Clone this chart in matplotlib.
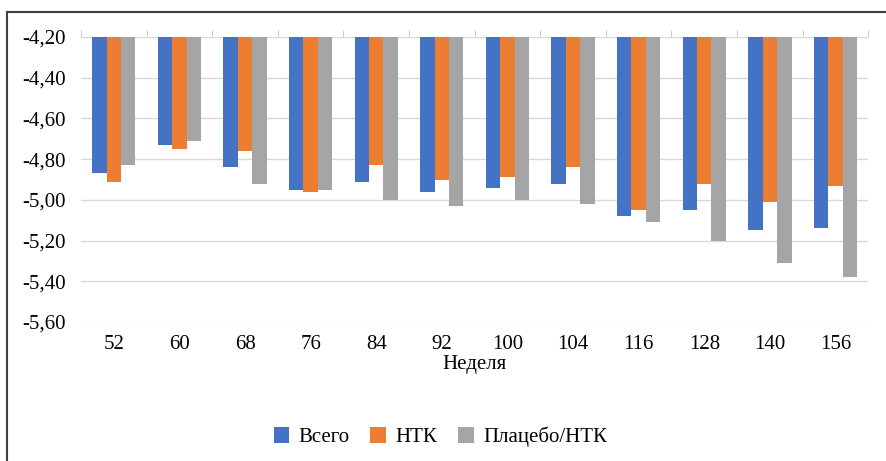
import numpy as np
import matplotlib
matplotlib.use("Agg")
import matplotlib.pyplot as plt
from matplotlib.lines import Line2D
from matplotlib.ticker import FuncFormatter, FixedLocator

weeks = ["52", "60", "68", "76", "84", "92", "100", "104", "116", "128", "140", "156"]
vsego = [-4.87, -4.73, -4.84, -4.95, -4.91, -4.96, -4.94, -4.92, -5.08, -5.05, -5.15, -5.14]
ntk = [-4.91, -4.75, -4.76, -4.96, -4.83, -4.90, -4.89, -4.84, -5.05, -4.92, -5.01, -4.93]
placebo = [-4.83, -4.71, -4.92, -4.95, -5.00, -5.03, -5.00, -5.02, -5.11, -5.20, -5.31, -5.38]

series = [("Всего", vsego, "#4472c4"),
          ("НТК", ntk, "#ed7d31"),
          ("Плацебо/НТК", placebo, "#a5a5a5")]

BASE = -4.20

plt.rcParams["font.family"] = ["Liberation Serif", "DejaVu Serif"]

fig = plt.figure(figsize=(8.86, 4.61), dpi=100)
ax = fig.add_axes([0.0914, 0.3015, 0.8886, 0.6182])

x = np.arange(len(weeks))
w = 0.22
for i, (name, vals, color) in enumerate(series):
    vals = np.array(vals)
    ax.bar(x + (i - 1) * w, vals - BASE, bottom=BASE, width=w,
           color=color, label=name, zorder=3)

ax.set_ylim(-5.60, -4.20)
ax.set_xlim(-0.5, len(weeks) - 0.5)
ax.set_yticks(np.arange(-5.6, -4.19, 0.2))
ax.yaxis.set_major_formatter(FuncFormatter(lambda v, p: f"{v:.2f}".replace(".", ",")))
ax.grid(axis="y", color="#d9d9d9", lw=1.0, zorder=0)
for s in ax.spines.values():
    s.set_visible(False)

ax.set_xticks(x)
ax.set_xticklabels(weeks)
ax.xaxis.set_minor_locator(FixedLocator(np.arange(-0.5, len(weeks), 0.5)))
ax.tick_params(axis="x", which="major", length=0, labelsize=15, pad=9)
ax.tick_params(axis="x", which="minor", bottom=False, top=True,
               direction="out", length=5, color="#bfbfbf")
ax.tick_params(axis="y", length=0, labelsize=15, pad=11)
ax.set_xlabel("Неделя", fontsize=15, labelpad=1)

fig.legend(loc="center", bbox_to_anchor=(0.497, 0.052), ncol=3, frameon=False,
           fontsize=15, handlelength=0.75, handleheight=0.75, handletextpad=0.45,
           columnspacing=1.0)

# frame: top and left edges only (the rest is cut off in the original)
fig.add_artist(Line2D([7 / 886, 1.0], [1 - 12 / 461] * 2,
                      transform=fig.transFigure, color="#404040", lw=1.5))
fig.add_artist(Line2D([7 / 886] * 2, [0.0, 1 - 12 / 461],
                      transform=fig.transFigure, color="#404040", lw=1.5))

fig.savefig("out.png", dpi=100)
